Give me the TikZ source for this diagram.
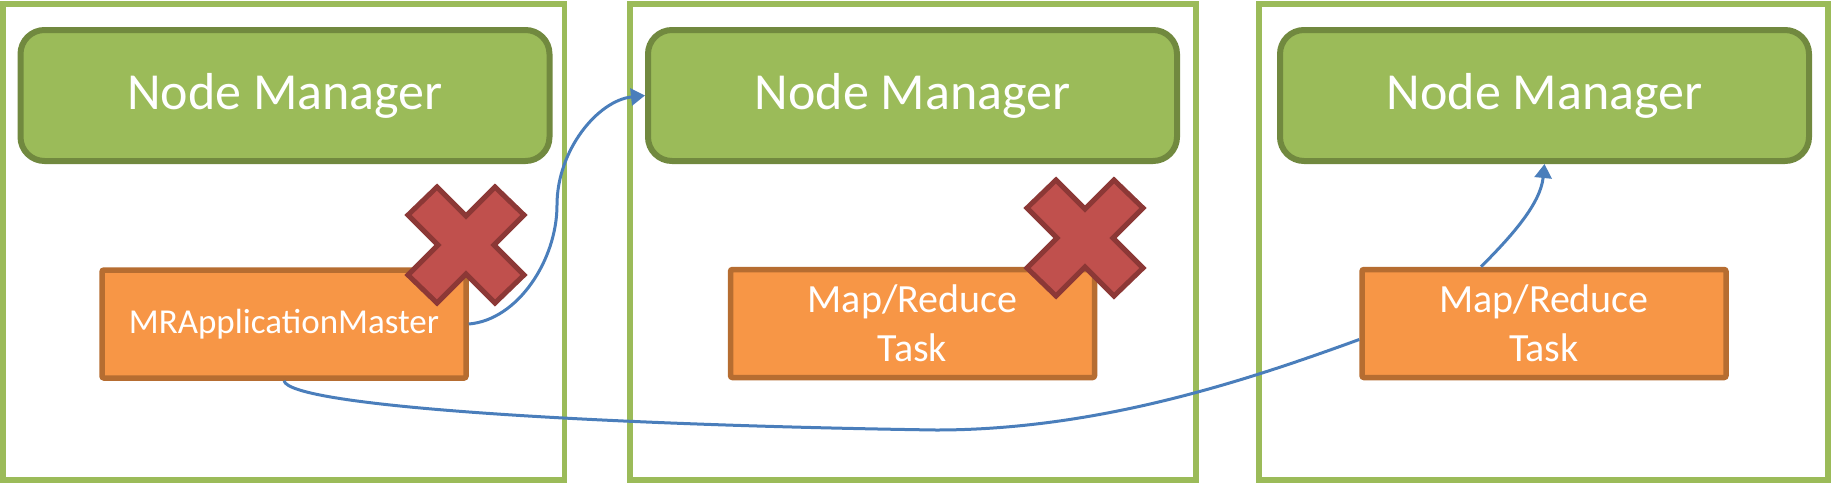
\documentclass[tikz,border=0pt]{standalone}
\usepackage{fontspec}
\setmainfont{Carlito}
\usetikzlibrary{arrows.meta,calc}
\definecolor{boxgreen}{HTML}{9BBB59}
\definecolor{nmborder}{HTML}{71893F}
\definecolor{taskfill}{HTML}{F79646}
\definecolor{taskborder}{HTML}{B66D31}
\definecolor{xfill}{HTML}{C0504D}
\definecolor{xborder}{HTML}{8C3836}
\definecolor{linkblue}{HTML}{4A7EBB}
\begin{document}
\begin{tikzpicture}[x=0.5pt,y=-0.5pt,
  hostbox/.style={draw=boxgreen,line width=2.75pt,minimum height=238pt,inner sep=0pt},
  nmbox/.style={draw=nmborder,fill=boxgreen,line width=3pt,rounded corners=12pt,
    minimum width=264.5pt,minimum height=65.5pt,text=white,inner sep=0pt,
    font=\fontsize{26}{31}\selectfont},
  taskbox/.style={draw=taskborder,fill=taskfill,line width=2.75pt,rounded corners=1pt,
    minimum width=182pt,minimum height=54pt,text=white,align=center,inner sep=0pt},
  tasktext/.style={font=\fontsize{20}{24.5}\selectfont},
  amtext/.style={font=\fontsize{17.5}{21}\selectfont},
  link/.style={draw=linkblue,line width=1.5pt},
  linkarrow/.style={link,-{Triangle[length=7pt,width=8.5pt]}},
  redx/.pic={\draw[draw=xborder,fill=xfill,line width=2.5pt,line join=miter]
    (-58,-30) -- (-29,-58) -- (0,-29) -- (29,-58) -- (58,-30) -- (28,0) --
    (58,30) -- (29,58) -- (0,29) -- (-29,58) -- (-58,30) -- (-28,0) -- cycle;}
]
\useasboundingbox (0,0) rectangle (1832,483);

% host boxes
\node[hostbox,minimum width=280.75pt] (h1) at (283.75,242) {};
\node[hostbox,minimum width=283pt] (h2) at (913,242) {};
\node[hostbox,minimum width=284.5pt] (h3) at (1543.5,242) {};

% node managers
\node[nmbox] (nm1) at (285,95.5) {Node Manager};
\node[nmbox] (nm2) at (912.5,95.5) {Node Manager};
\node[nmbox] (nm3) at (1544.5,95.5) {Node Manager};

% tasks
\node[taskbox,amtext] (mram) at (284,324) {MRApplicationMaster};
\node[taskbox,tasktext] (t2) at (912.5,323.5) {Map/Reduce\\Task};
\node[taskbox,tasktext] (t3) at (1544,323.5) {Map/Reduce\\Task};

% connectors
\coordinate (c1) at (557,205);
\coordinate (c2) at (936,430);
\draw[linkarrow] (mram.east) .. controls +(49,-4) and +(0,55) .. (c1)
  .. controls +(0,-55) and +(-47,5) .. (nm2.west);
\draw[link] (mram.south) .. controls +(6,26) and +(-336,-5) .. (c2)
  .. controls +(164,0) and +(-110,40) .. ($(t3.west)+(0,16)$);
\draw[linkarrow] ($(t3.north)+(-63,0)$) .. controls +(30,-30) and +(-4,40) .. (nm3.south);

% failure marks
\pic at (466,245) {redx};
\pic at (1085,238) {redx};
\end{tikzpicture}
\end{document}
